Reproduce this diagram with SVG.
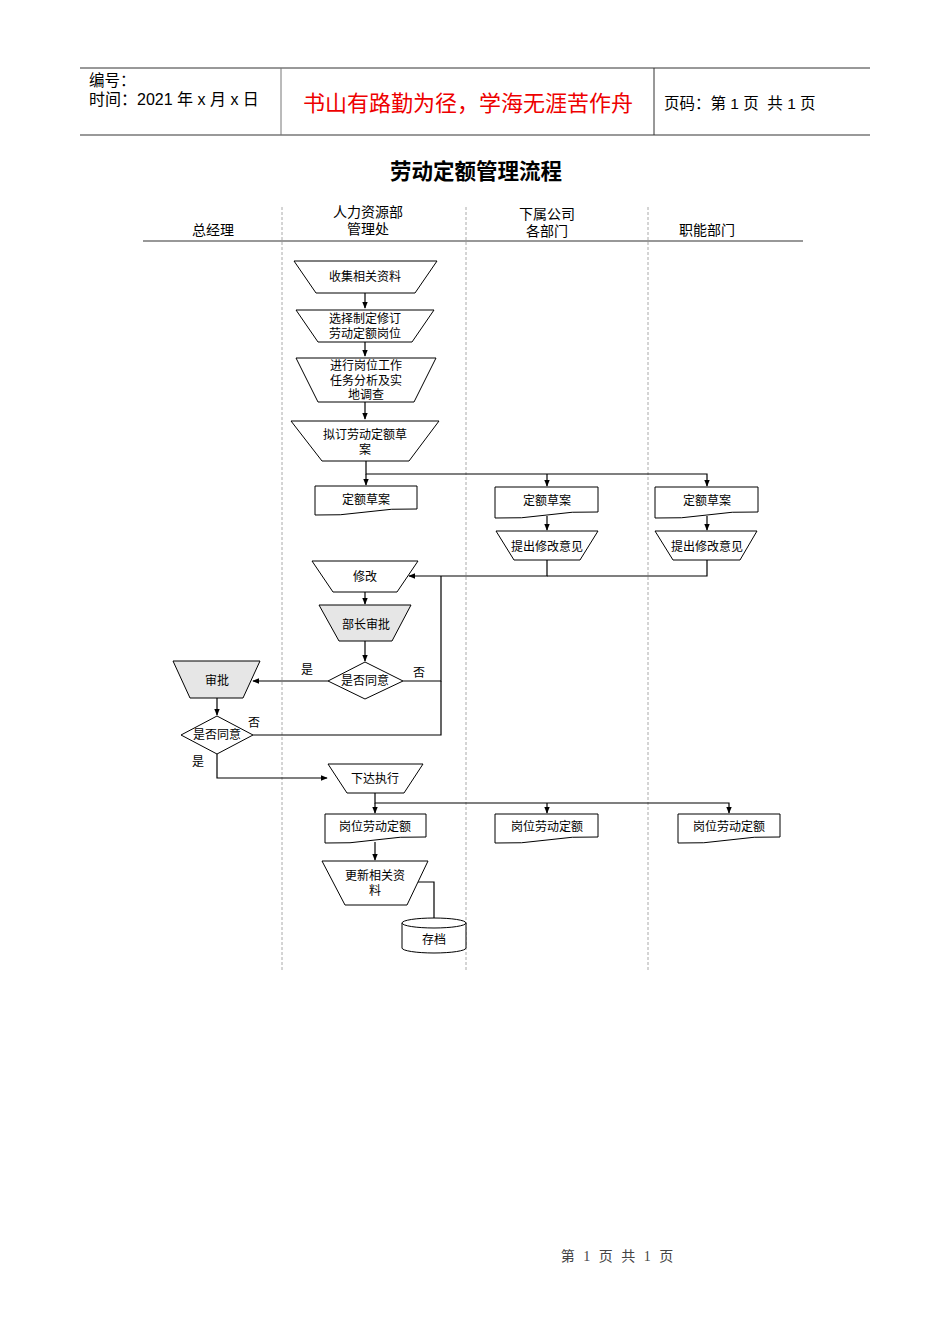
<svg xmlns="http://www.w3.org/2000/svg" width="950" height="1344" viewBox="0 0 950 1344">
<style>
text{font-family:"Liberation Sans","Noto Sans CJK SC",sans-serif;fill:#000}
.n{font-size:12px;text-anchor:middle}
.ln{font-size:14px;text-anchor:middle}
.sh{fill:#fff;stroke:#000;stroke-width:1}
.g{fill:#e6e6e6;stroke:#000;stroke-width:1}
.c{fill:none;stroke:#000;stroke-width:1.2}
.lane{stroke:#aaa;stroke-width:1;stroke-dasharray:3,2}
</style>
<defs>
<marker id="a" viewBox="0 0 10 10" refX="9" refY="5" markerWidth="6" markerHeight="6" orient="auto"><path d="M0,1 L10,5 L0,9 Z" fill="#000"/></marker>
</defs>
<g id="header">
<line x1="80" y1="68" x2="870" y2="68" stroke="#333" stroke-width="1"/>
<line x1="80" y1="135" x2="870" y2="135" stroke="#777" stroke-width="1.5"/>
<line x1="281" y1="68" x2="281" y2="135" stroke="#777" stroke-width="1"/>
<line x1="654" y1="68" x2="654" y2="135" stroke="#333" stroke-width="1"/>
<text x="89" y="86" font-size="15.5">编号：</text>
<text x="89" y="105" font-size="16">时间：2021 年 x 月 x 日</text>
<text x="468" y="111" font-size="22" text-anchor="middle" style="fill:#e00">书山有路勤为径，学海无涯苦作舟</text>
<text x="664" y="109" font-size="15.5" xml:space="preserve">页码：第 1 页  共 1 页</text>
</g>
<text x="476" y="179" font-size="21.5" font-weight="bold" text-anchor="middle">劳动定额管理流程</text>
<g id="lanes">
<line x1="143" y1="241" x2="803" y2="241" stroke="#333" stroke-width="1.2"/>
<line class="lane" x1="282" y1="207" x2="282" y2="970"/>
<line class="lane" x1="466" y1="207" x2="466" y2="970"/>
<line class="lane" x1="648" y1="207" x2="648" y2="970"/>
<text class="ln" x="213" y="235">总经理</text>
<text class="ln" x="368" y="217">人力资源部</text>
<text class="ln" x="368" y="234">管理处</text>
<text class="ln" x="547" y="219">下属公司</text>
<text class="ln" x="547" y="236">各部门</text>
<text class="ln" x="707" y="235">职能部门</text>
</g>
<g id="connectors">
<path class="c" d="M365,293 V308" marker-end="url(#a)"/>
<path class="c" d="M365,342 V356" marker-end="url(#a)"/>
<path class="c" d="M365,402 V419" marker-end="url(#a)"/>
<path class="c" d="M366,461 V474 H707 V486" marker-end="url(#a)"/>
<path class="c" d="M366,474 V485" marker-end="url(#a)"/>
<path class="c" d="M547,474 V486" marker-end="url(#a)"/>
<path class="c" d="M547,516 V530" marker-end="url(#a)"/>
<path class="c" d="M707,516 V530" marker-end="url(#a)"/>
<path class="c" d="M547,560 V576 H409" marker-end="url(#a)"/>
<path class="c" d="M707,560 V576 H547"/>
<path class="c" d="M365,592 V604" marker-end="url(#a)"/>
<path class="c" d="M365,641 V661" marker-end="url(#a)"/>
<path class="c" d="M328,681 H253" marker-end="url(#a)"/>
<path class="c" d="M403,681 H441 V576"/>
<path class="c" d="M253,735 H441 V681"/>
<path class="c" d="M217,698 V715" marker-end="url(#a)"/>
<path class="c" d="M217,754 V778 H327" marker-end="url(#a)"/>
<path class="c" d="M375,793 V803 H729 V813" marker-end="url(#a)"/>
<path class="c" d="M375,803 V813" marker-end="url(#a)"/>
<path class="c" d="M547,803 V813" marker-end="url(#a)"/>
<path class="c" d="M375,842 V860" marker-end="url(#a)"/>
<path class="c" d="M418,882 H434 V927" marker-end="url(#a)"/>
<text x="307" y="674" font-size="12" text-anchor="middle">是</text>
<text x="419" y="677" font-size="12" text-anchor="middle">否</text>
<text x="254" y="727" font-size="12" text-anchor="middle">否</text>
<text x="198" y="766" font-size="12" text-anchor="middle">是</text>
</g>
<g id="n1"><path class="sh" d="M294,261 H437 L415,293 H316 Z"/><text class="n" x="365" y="281">收集相关资料</text></g>
<g id="n2"><path class="sh" d="M296,310 H434 L412,342 H318 Z"/><text class="n" x="365" y="323">选择制定修订</text><text class="n" x="365" y="338">劳动定额岗位</text></g>
<g id="n3"><path class="sh" d="M296,358 H436 L414,402 H318 Z"/><text class="n" x="366" y="370">进行岗位工作</text><text class="n" x="366" y="385">任务分析及实</text><text class="n" x="366" y="399">地调查</text></g>
<g id="n4"><path class="sh" d="M291,421 H439 L409,461 H322 Z"/><text class="n" x="365" y="439">拟订劳动定额草</text><text class="n" x="365" y="454">案</text></g>
<g id="n5"><path class="sh" d="M315,486 H417 V509 Q392,508 366,512 T315,515 Z"/><text class="n" x="366" y="504">定额草案</text></g>
<g id="n6"><path class="sh" d="M495,487 H598 V512 Q572,511 547,515 T495,518 Z"/><text class="n" x="547" y="505">定额草案</text></g>
<g id="n7"><path class="sh" d="M655,487 H758 V512 Q732,511 707,515 T655,518 Z"/><text class="n" x="707" y="505">定额草案</text></g>
<g id="n8"><path class="sh" d="M496,531 H598 L580,560 H514 Z"/><text class="n" x="547" y="551">提出修改意见</text></g>
<g id="n9"><path class="sh" d="M655,531 H757 L740,560 H673 Z"/><text class="n" x="707" y="551">提出修改意见</text></g>
<g id="n10"><path class="sh" d="M312,561 H418 L397,592 H333 Z"/><text class="n" x="365" y="581">修改</text></g>
<g id="n11"><path class="g" d="M319,605 H411 L392,641 H339 Z"/><text class="n" x="366" y="629">部长审批</text></g>
<g id="n12"><path class="sh" d="M365,662 L403,681 L365,699 L328,681 Z"/><text class="n" x="365" y="685">是否同意</text></g>
<g id="n13"><path class="g" d="M173,661 H260 L243,698 H190 Z"/><text class="n" x="217" y="685">审批</text></g>
<g id="n14"><path class="sh" d="M217,716 L253,735 L217,754 L181,735 Z"/><text class="n" x="217" y="739">是否同意</text></g>
<g id="n15"><path class="sh" d="M328,764 H423 L404,793 H347 Z"/><text class="n" x="375" y="783">下达执行</text></g>
<g id="n16"><path class="sh" d="M325,814 H426 V837 Q400,836 375,840 T325,843 Z"/><text class="n" x="375" y="831">岗位劳动定额</text></g>
<g id="n17"><path class="sh" d="M495,814 H598 V837 Q572,836 547,840 T495,843 Z"/><text class="n" x="547" y="831">岗位劳动定额</text></g>
<g id="n18"><path class="sh" d="M678,814 H780 V837 Q754,836 729,840 T678,843 Z"/><text class="n" x="729" y="831">岗位劳动定额</text></g>
<g id="n19"><path class="sh" d="M322,861 H428 L407,905 H345 Z"/><text class="n" x="375" y="880">更新相关资</text><text class="n" x="375" y="895">料</text></g>
<g id="n20"><path class="sh" d="M402,923 V948 A32,5 0 0 0 466,948 V923 A32,5 0 0 0 402,923 Z"/><path class="sh" d="M402,923 A32,5 0 0 0 466,923" fill="none"/><text class="n" x="434" y="944">存档</text></g>
<text x="617" y="1261" font-size="14" text-anchor="middle" word-spacing="5" style="fill:#444;font-family:'Liberation Serif','Noto Sans CJK SC',serif">第 1 页 共 1 页</text>
</svg>
